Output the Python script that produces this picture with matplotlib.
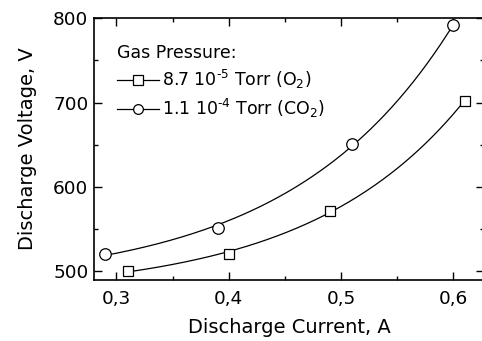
import numpy as np
import matplotlib.pyplot as plt
from matplotlib.ticker import MultipleLocator, FuncFormatter

# datos
i_o2 = [0.31, 0.40, 0.49, 0.61]
v_o2 = [500, 520, 571, 702]
i_co2 = [0.29, 0.39, 0.51, 0.60]
v_co2 = [520, 551, 651, 792]

lab_o2 = "8.7 10$^{\u20105}$ Torr (O$_2$)"
lab_co2 = "1.1 10$^{\u20104}$ Torr (CO$_2$)"

plt.rcParams["font.family"] = ["DejaVu Sans"]
plt.rcParams["mathtext.default"] = "regular"


def ajuste_exp(xs, ys):
    # y = y0 + A*exp(x/t), busca t y resuelve y0, A por minimos cuadrados
    xs = np.asarray(xs, float)
    ys = np.asarray(ys, float)
    mejor = None
    for t in np.linspace(0.03, 1.0, 400):
        M = np.column_stack([np.ones_like(xs), np.exp(xs / t)])
        c, *_ = np.linalg.lstsq(M, ys, rcond=None)
        r = np.sum((M @ c - ys) ** 2)
        if mejor is None or r < mejor[0]:
            mejor = (r, t, c)
    _, t, c = mejor
    return lambda x: c[0] + c[1] * np.exp(x / t)


fig = plt.figure(figsize=(4.82, 3.41), dpi=100)
# el eje derecho queda justo fuera de la imagen, como en el original
ax = fig.add_axes([94 / 482, 1 - 280 / 341, 390 / 482, 262 / 341])

for xs, ys, mk, lab in [(i_o2, v_o2, "s", lab_o2), (i_co2, v_co2, "o", lab_co2)]:
    f = ajuste_exp(xs, ys)
    xf = np.linspace(min(xs), max(xs), 200)
    ax.plot(xf, f(xf), color="black", lw=0.9)
    ax.plot(xs, ys, ls="none", marker=mk, ms=8.3 if mk == "o" else 7.6,
            mfc="white", mec="black", mew=0.9)
    # handle para la leyenda
    ax.plot([], [], color="black", lw=0.9, marker=mk, ms=7 if mk == "o" else 6.5,
            mfc="white", mec="black", mew=0.9, label=lab)

ax.set_xlim(0.28, 0.6273)
ax.set_ylim(489, 800.5)
ax.xaxis.set_major_locator(MultipleLocator(0.1))
ax.xaxis.set_minor_locator(MultipleLocator(0.05))
ax.yaxis.set_major_locator(MultipleLocator(100))
ax.yaxis.set_minor_locator(MultipleLocator(50))
ax.xaxis.set_major_formatter(FuncFormatter(lambda v, p: f"{v:.1f}".replace(".", ",")))

ax.tick_params(which="both", direction="in", top=True, right=True, width=1.0)
ax.tick_params(which="major", length=5.5, labelsize=13.3)
ax.tick_params(which="minor", length=3)
ax.tick_params(axis="x", pad=7)
ax.tick_params(axis="y", pad=4)
for s in ax.spines.values():
    s.set_linewidth(1.2)

ax.set_xlabel("Discharge Current, A", fontsize=14, labelpad=7.5)
ax.set_ylabel("Discharge Voltage, V", fontsize=14, labelpad=12)

leg = ax.legend(title="Gas Pressure:", loc="upper left", frameon=False,
                fontsize=12.5, title_fontsize=12.5, alignment="left",
                handlelength=2.4, handletextpad=0.2, labelspacing=0.35,
                borderaxespad=0.0, bbox_to_anchor=(0.042, 0.928))

fig.savefig("out.png", dpi=100)
